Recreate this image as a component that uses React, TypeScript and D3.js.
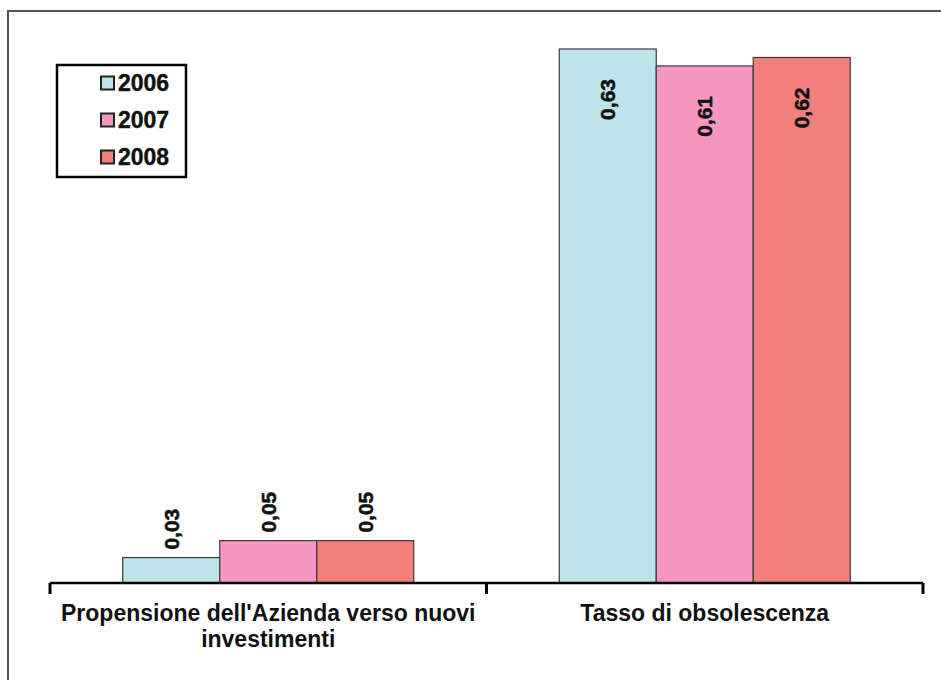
import React from "react";
import * as d3 from "d3";

// Indicators, one group of bars each
const categories = [
  ["Propensione dell'Azienda verso nuovi", "investimenti"],
  ["Tasso di obsolescenza"],
];
const years = ["2006", "2007", "2008"];
const values2006 = [0.03, 0.63];
const values2007 = [0.05, 0.61];
const values2008 = [0.05, 0.62];
const yearColors = ["#bde4ea", "#f597c2", "#f27f7c"];

const W = 941;
const H = 680;
const FONT = "'Liberation Sans', Arial, sans-serif";

const itFormat = d3
  .formatLocale({ decimal: ",", thousands: ".", grouping: [3], currency: ["", " €"] })
  .format(".2f");

export default function App() {
  const series = [values2006, values2007, values2008];
  const axisLeft = 50;
  const axisRight = 923;
  const baseY = 583;

  const x0 = d3
    .scaleBand<number>()
    .domain(categories.map((_, i) => i))
    .range([axisLeft, axisRight]);
  const x1 = d3
    .scaleBand<number>()
    .domain(years.map((_, i) => i))
    .range([0, x0.bandwidth()])
    .paddingOuter(0.75);
  const y = d3.scaleLinear().domain([0, 0.63]).range([baseY, 49]);

  const tickXs = [axisLeft, ...categories.map((_, i) => (x0(i) as number) + x0.bandwidth())];

  return (
    <svg
      width={W}
      height={H}
      style={{ position: "absolute", left: 0, top: 0, background: "#fff" }}
      fontFamily={FONT}
      fontWeight="bold"
    >
      {/* frame */}
      <rect x={8} y={11} width={W + 20} height={H + 20} fill="none" stroke="#555" strokeWidth={2} />

      {/* bars */}
      {categories.map((_, ci) =>
        series.map((vals, si) => {
          const bx = (x0(ci) as number) + (x1(si) as number);
          const bw = x1.bandwidth();
          const v = vals[ci];
          const top = y(v);
          const h = baseY - top;
          const cx = bx + bw / 2;
          const inside = h > 100;
          // rotated value label, reading upwards
          const ty = inside ? top + 30 : top - 8;
          return (
            <g key={`${ci}-${si}`}>
              <rect x={bx} y={top} width={bw} height={h} fill={yearColors[si]} stroke="#3a3a3a" strokeWidth={1.2} />
              <text
                transform={`translate(${cx},${ty}) rotate(-90)`}
                textAnchor={inside ? "end" : "start"}
                dominantBaseline="central"
                fontSize={21}
                fill="#111"
                stroke="#111"
                strokeWidth={0.5}
              >
                {itFormat(v)}
              </text>
            </g>
          );
        })
      )}

      {/* category axis */}
      <line x1={axisLeft} x2={axisRight} y1={baseY} y2={baseY} stroke="#000" strokeWidth={2.5} />
      {tickXs.map((tx, i) => (
        <line key={i} x1={tx} x2={tx} y1={baseY} y2={baseY + 11} stroke="#000" strokeWidth={3} />
      ))}
      {categories.map((lines, ci) => (
        <text
          key={ci}
          x={(x0(ci) as number) + x0.bandwidth() / 2}
          y={621}
          textAnchor="middle"
          fontSize={23}
          fill="#111"
        >
          {lines.map((ln, li) => (
            <tspan key={li} x={(x0(ci) as number) + x0.bandwidth() / 2} dy={li === 0 ? 0 : 26}>
              {ln}
            </tspan>
          ))}
        </text>
      ))}

      {/* legend */}
      <rect x={57} y={65} width={129} height={112} fill="#fff" stroke="#000" strokeWidth={2.5} />
      {years.map((yr, i) => (
        <g key={yr} transform={`translate(101,${83 + i * 37})`}>
          <rect x={0} y={-6.5} width={13} height={13} fill={yearColors[i]} stroke="#222" strokeWidth={2} />
          <text x={17} y={0} dominantBaseline="central" fontSize={23} fill="#111" stroke="#111" strokeWidth={0.4}>
            {yr}
          </text>
        </g>
      ))}
    </svg>
  );
}
